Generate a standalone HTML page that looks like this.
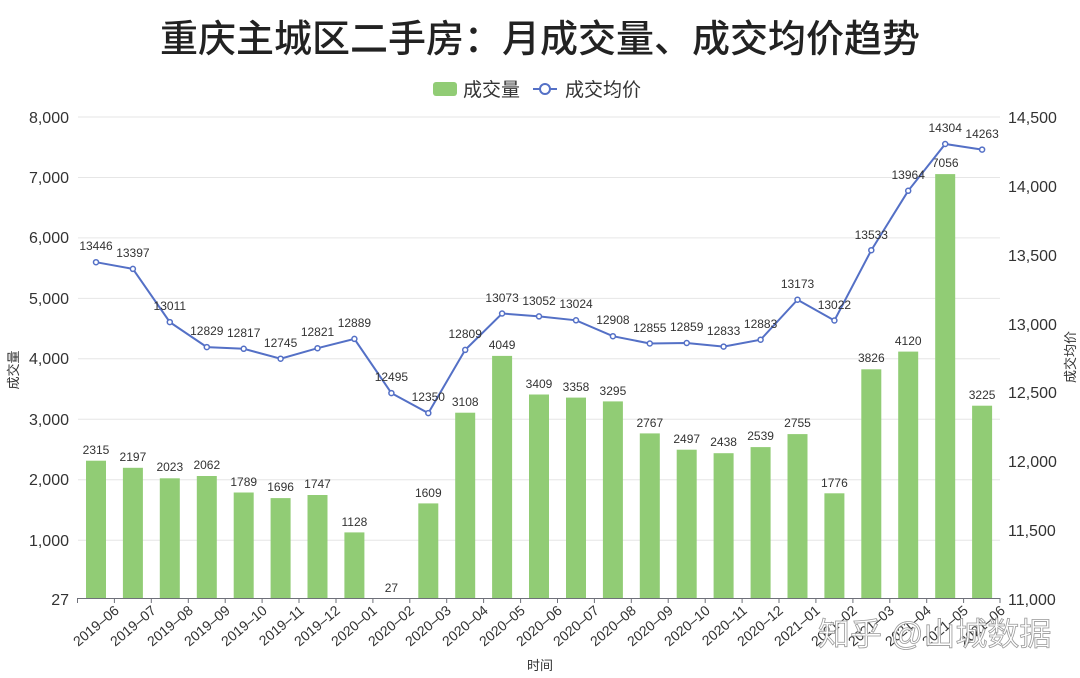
<!DOCTYPE html>
<html><head><meta charset="utf-8"><style>
body{margin:0;background:#fff}
svg{display:block;font-family:"Liberation Sans","Noto Sans CJK SC",sans-serif}
</style></head><body>
<svg width="1080" height="678" viewBox="0 0 1080 678">
<rect width="1080" height="678" fill="#fff"/>
<text x="540" y="52" text-anchor="middle" font-size="38" font-weight="500" fill="#222">重庆主城区二手房：月成交量、成交均价趋势</text>
<rect x="433" y="82" width="24" height="14" rx="3" fill="#91cc75"/>
<text x="463" y="96" font-size="19" fill="#333">成交量</text>
<line x1="533" y1="89" x2="557" y2="89" stroke="#5470c6" stroke-width="2"/>
<circle cx="545" cy="89" r="5" fill="#fff" stroke="#5470c6" stroke-width="2"/>
<text x="565" y="96" font-size="19" fill="#333">成交均价</text>
<g stroke="#e6e6e6" stroke-width="1">
<line x1="78" x2="1000" y1="117" y2="117"/><line x1="78" x2="1000" y1="177.5" y2="177.5"/><line x1="78" x2="1000" y1="237.9" y2="237.9"/><line x1="78" x2="1000" y1="298.4" y2="298.4"/><line x1="78" x2="1000" y1="358.8" y2="358.8"/><line x1="78" x2="1000" y1="419.3" y2="419.3"/><line x1="78" x2="1000" y1="479.7" y2="479.7"/><line x1="78" x2="1000" y1="540.2" y2="540.2"/>
</g>
<g font-size="16" fill="#333" text-anchor="end">
<text x="69" y="123">8,000</text><text x="69" y="183">7,000</text><text x="69" y="243">6,000</text><text x="69" y="304">5,000</text><text x="69" y="364">4,000</text><text x="69" y="425">3,000</text><text x="69" y="485">2,000</text><text x="69" y="546">1,000</text><text x="69" y="605">27</text>
</g>
<g font-size="16" fill="#333">
<text x="1008" y="123">14,500</text><text x="1008" y="192">14,000</text><text x="1008" y="261">13,500</text><text x="1008" y="330">13,000</text><text x="1008" y="398">12,500</text><text x="1008" y="467">12,000</text><text x="1008" y="536">11,500</text><text x="1008" y="605">11,000</text>
</g>
<g fill="#91cc75">
<rect x="86" y="460.7" width="20" height="138.3"/><rect x="122.9" y="467.8" width="20" height="131.2"/><rect x="159.8" y="478.3" width="20" height="120.7"/><rect x="196.8" y="476" width="20" height="123"/><rect x="233.7" y="492.5" width="20" height="106.5"/><rect x="270.6" y="498.1" width="20" height="100.9"/><rect x="307.5" y="495" width="20" height="104"/><rect x="344.4" y="532.4" width="20" height="66.6"/><rect x="418.3" y="503.4" width="20" height="95.6"/><rect x="455.2" y="412.7" width="20" height="186.3"/><rect x="492.1" y="355.9" width="20" height="243.1"/><rect x="529" y="394.5" width="20" height="204.5"/><rect x="566" y="397.6" width="20" height="201.4"/><rect x="602.9" y="401.4" width="20" height="197.6"/><rect x="639.8" y="433.4" width="20" height="165.6"/><rect x="676.7" y="449.7" width="20" height="149.3"/><rect x="713.6" y="453.2" width="20" height="145.8"/><rect x="750.6" y="447.1" width="20" height="151.9"/><rect x="787.5" y="434.1" width="20" height="164.9"/><rect x="824.4" y="493.3" width="20" height="105.7"/><rect x="861.3" y="369.3" width="20" height="229.7"/><rect x="898.2" y="351.6" width="20" height="247.4"/><rect x="935.2" y="174.1" width="20" height="424.9"/><rect x="972.1" y="405.7" width="20" height="193.3"/>
</g>
<g font-size="12" fill="#333" text-anchor="middle">
<text x="96" y="454">2315</text><text x="132.9" y="461">2197</text><text x="169.8" y="471">2023</text><text x="206.8" y="469">2062</text><text x="243.7" y="486">1789</text><text x="280.6" y="491">1696</text><text x="317.5" y="488">1747</text><text x="354.4" y="526">1128</text><text x="391.4" y="592">27</text><text x="428.3" y="497">1609</text><text x="465.2" y="406">3108</text><text x="502.1" y="349">4049</text><text x="539" y="388">3409</text><text x="576" y="391">3358</text><text x="612.9" y="395">3295</text><text x="649.8" y="427">2767</text><text x="686.7" y="443">2497</text><text x="723.6" y="446">2438</text><text x="760.6" y="440">2539</text><text x="797.5" y="427">2755</text><text x="834.4" y="487">1776</text><text x="871.3" y="362">3826</text><text x="908.2" y="345">4120</text><text x="945.2" y="167">7056</text><text x="982.1" y="399">3225</text>
</g>
<polyline fill="none" stroke="#5470c6" stroke-width="2" points="96,262.2 132.9,268.9 169.8,322.1 206.8,347.1 243.7,348.8 280.6,358.7 317.5,348.2 354.4,338.9 391.4,393.1 428.3,413.1 465.2,349.9 502.1,313.5 539,316.4 576,320.3 612.9,336.2 649.8,343.5 686.7,343 723.6,346.6 760.6,339.7 797.5,299.7 834.4,320.5 871.3,250.2 908.2,190.8 945.2,144 982.1,149.6"/>
<g fill="#fff" stroke="#5470c6" stroke-width="1.5">
<circle cx="96" cy="262.2" r="2.5"/><circle cx="132.9" cy="268.9" r="2.5"/><circle cx="169.8" cy="322.1" r="2.5"/><circle cx="206.8" cy="347.1" r="2.5"/><circle cx="243.7" cy="348.8" r="2.5"/><circle cx="280.6" cy="358.7" r="2.5"/><circle cx="317.5" cy="348.2" r="2.5"/><circle cx="354.4" cy="338.9" r="2.5"/><circle cx="391.4" cy="393.1" r="2.5"/><circle cx="428.3" cy="413.1" r="2.5"/><circle cx="465.2" cy="349.9" r="2.5"/><circle cx="502.1" cy="313.5" r="2.5"/><circle cx="539" cy="316.4" r="2.5"/><circle cx="576" cy="320.3" r="2.5"/><circle cx="612.9" cy="336.2" r="2.5"/><circle cx="649.8" cy="343.5" r="2.5"/><circle cx="686.7" cy="343" r="2.5"/><circle cx="723.6" cy="346.6" r="2.5"/><circle cx="760.6" cy="339.7" r="2.5"/><circle cx="797.5" cy="299.7" r="2.5"/><circle cx="834.4" cy="320.5" r="2.5"/><circle cx="871.3" cy="250.2" r="2.5"/><circle cx="908.2" cy="190.8" r="2.5"/><circle cx="945.2" cy="144" r="2.5"/><circle cx="982.1" cy="149.6" r="2.5"/>
</g>
<g font-size="12" fill="#333" text-anchor="middle">
<text x="96" y="250">13446</text><text x="132.9" y="257">13397</text><text x="169.8" y="310">13011</text><text x="206.8" y="335">12829</text><text x="243.7" y="337">12817</text><text x="280.6" y="347">12745</text><text x="317.5" y="336">12821</text><text x="354.4" y="327">12889</text><text x="391.4" y="381">12495</text><text x="428.3" y="401">12350</text><text x="465.2" y="338">12809</text><text x="502.1" y="302">13073</text><text x="539" y="305">13052</text><text x="576" y="308">13024</text><text x="612.9" y="324">12908</text><text x="649.8" y="332">12855</text><text x="686.7" y="331">12859</text><text x="723.6" y="335">12833</text><text x="760.6" y="328">12883</text><text x="797.5" y="288">13173</text><text x="834.4" y="309">13022</text><text x="871.3" y="239">13533</text><text x="908.2" y="179">13964</text><text x="945.2" y="132">14304</text><text x="982.1" y="138">14263</text>
</g>
<line x1="77.5" y1="598.5" x2="1000" y2="598.5" stroke="#6e7079" stroke-width="1"/>
<g stroke="#6e7079"><line x1="77.5" x2="77.5" y1="598" y2="603"/><line x1="114.4" x2="114.4" y1="598" y2="603"/><line x1="151.3" x2="151.3" y1="598" y2="603"/><line x1="188.3" x2="188.3" y1="598" y2="603"/><line x1="225.2" x2="225.2" y1="598" y2="603"/><line x1="262.1" x2="262.1" y1="598" y2="603"/><line x1="299" x2="299" y1="598" y2="603"/><line x1="336" x2="336" y1="598" y2="603"/><line x1="372.9" x2="372.9" y1="598" y2="603"/><line x1="409.8" x2="409.8" y1="598" y2="603"/><line x1="446.7" x2="446.7" y1="598" y2="603"/><line x1="483.6" x2="483.6" y1="598" y2="603"/><line x1="520.6" x2="520.6" y1="598" y2="603"/><line x1="557.5" x2="557.5" y1="598" y2="603"/><line x1="594.4" x2="594.4" y1="598" y2="603"/><line x1="631.3" x2="631.3" y1="598" y2="603"/><line x1="668.2" x2="668.2" y1="598" y2="603"/><line x1="705.2" x2="705.2" y1="598" y2="603"/><line x1="742.1" x2="742.1" y1="598" y2="603"/><line x1="779" x2="779" y1="598" y2="603"/><line x1="815.9" x2="815.9" y1="598" y2="603"/><line x1="852.9" x2="852.9" y1="598" y2="603"/><line x1="889.8" x2="889.8" y1="598" y2="603"/><line x1="926.7" x2="926.7" y1="598" y2="603"/><line x1="963.6" x2="963.6" y1="598" y2="603"/><line x1="1000" x2="1000" y1="598" y2="603"/></g>
<g font-size="14" fill="#333" text-anchor="end">
<text transform="translate(120,612) rotate(-40)">2019–06</text><text transform="translate(157,612) rotate(-40)">2019–07</text><text transform="translate(194,612) rotate(-40)">2019–08</text><text transform="translate(231,612) rotate(-40)">2019–09</text><text transform="translate(268,612) rotate(-40)">2019–10</text><text transform="translate(305,612) rotate(-40)">2019–11</text><text transform="translate(341,612) rotate(-40)">2019–12</text><text transform="translate(378,612) rotate(-40)">2020–01</text><text transform="translate(415,612) rotate(-40)">2020–02</text><text transform="translate(452,612) rotate(-40)">2020–03</text><text transform="translate(489,612) rotate(-40)">2020–04</text><text transform="translate(526,612) rotate(-40)">2020–05</text><text transform="translate(563,612) rotate(-40)">2020–06</text><text transform="translate(600,612) rotate(-40)">2020–07</text><text transform="translate(637,612) rotate(-40)">2020–08</text><text transform="translate(674,612) rotate(-40)">2020–09</text><text transform="translate(711,612) rotate(-40)">2020–10</text><text transform="translate(748,612) rotate(-40)">2020–11</text><text transform="translate(784,612) rotate(-40)">2020–12</text><text transform="translate(821,612) rotate(-40)">2021–01</text><text transform="translate(858,612) rotate(-40)">2021–02</text><text transform="translate(895,612) rotate(-40)">2021–03</text><text transform="translate(932,612) rotate(-40)">2021–04</text><text transform="translate(969,612) rotate(-40)">2021–05</text><text transform="translate(1006,612) rotate(-40)">2021–06</text>
</g>
<text x="540" y="670" font-size="13" fill="#333" text-anchor="middle">时间</text>
<text transform="translate(18,370) rotate(-90)" font-size="13" fill="#333" text-anchor="middle">成交量</text>
<text transform="translate(1075,357) rotate(-90)" font-size="13" fill="#333" text-anchor="middle">成交均价</text>
<text x="818" y="645" font-size="32" fill="#fff" fill-opacity="0.85" stroke="#999" stroke-width="0.8">知乎 @山城数据</text>
</svg>
</body></html>
